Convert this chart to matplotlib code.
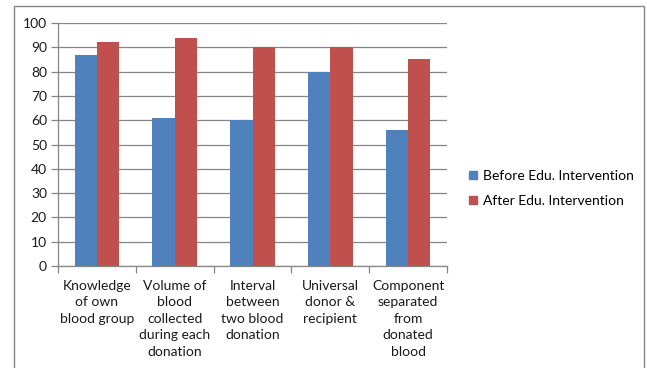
import matplotlib
matplotlib.use("Agg")
import matplotlib.pyplot as plt
from matplotlib.lines import Line2D
from matplotlib.patches import Rectangle
import numpy as np

categories = ["Knowledge\nof own\nblood group",
              "Volume of\nblood\ncollected\nduring each\ndonation",
              "Interval\nbetween\ntwo blood\ndonation",
              "Universal\ndonor &\nrecipient",
              "Component\nseparated\nfrom\ndonated\nblood"]
before = [87, 61, 60, 80, 56]
after = [92, 94, 90, 90, 85]
series_names = ["Before Edu. Intervention", "After Edu. Intervention"]
yticks = list(range(0, 101, 10))

BLUE = "#4F81BD"
RED = "#C0504D"
GRID = "#868686"
FONT = "Lato"
FS = 10

W, H = 647, 368
fig = plt.figure(figsize=(W / 100, H / 100), dpi=100)
fig.patch.set_facecolor("white")

# outer chart border
fig.add_artist(Rectangle((14 / W, -0.01), (644 - 14) / W, (H - 6) / H + 0.01,
                         transform=fig.transFigure, fill=False,
                         edgecolor=GRID, linewidth=1.0))

ax = fig.add_axes([58 / W, (H - 266) / H, (447 - 58) / W, (266 - 23) / H])
x = np.arange(len(categories))
bw = 1 / 3.5
ax.bar(x - bw / 2, before, bw, color=BLUE, label=series_names[0], zorder=3)
ax.bar(x + bw / 2, after, bw, color=RED, label=series_names[1], zorder=3)

ax.set_xlim(-0.5, len(categories) - 0.5)
ax.set_ylim(0, 100)
ax.set_yticks(yticks)
ax.set_yticklabels([str(v) for v in yticks], fontsize=FS, family=FONT, color="#1a1a1a")
ax.grid(axis="y", color=GRID, linewidth=0.9, zorder=0)
ax.tick_params(axis="y", length=5, color=GRID, width=0.9, pad=3)

ax.set_xticks(x)
ax.set_xticklabels(categories, fontsize=FS, family=FONT, color="#1a1a1a",
                   linespacing=1.45, va="top")
ax.tick_params(axis="x", which="major", length=0, pad=10)
ax.set_xticks(np.arange(-0.5, len(categories), 1.0), minor=True)
ax.tick_params(axis="x", which="minor", length=5, color=GRID, width=0.9)

for s in ["top", "right"]:
    ax.spines[s].set_visible(False)
for s in ["left", "bottom"]:
    ax.spines[s].set_color(GRID)
    ax.spines[s].set_linewidth(0.9)

handles = [Line2D([], [], marker="s", linestyle="none", markersize=6,
                  markerfacecolor=c, markeredgecolor=c) for c in (BLUE, RED)]
fig.legend(handles, series_names, loc="upper left",
           bbox_to_anchor=(462 / W, (H - 163) / H), frameon=False,
           prop={"family": FONT, "size": FS}, handlelength=0.6,
           handletextpad=0.4, labelspacing=0.95, borderpad=0)

fig.savefig("out.png", dpi=100)
